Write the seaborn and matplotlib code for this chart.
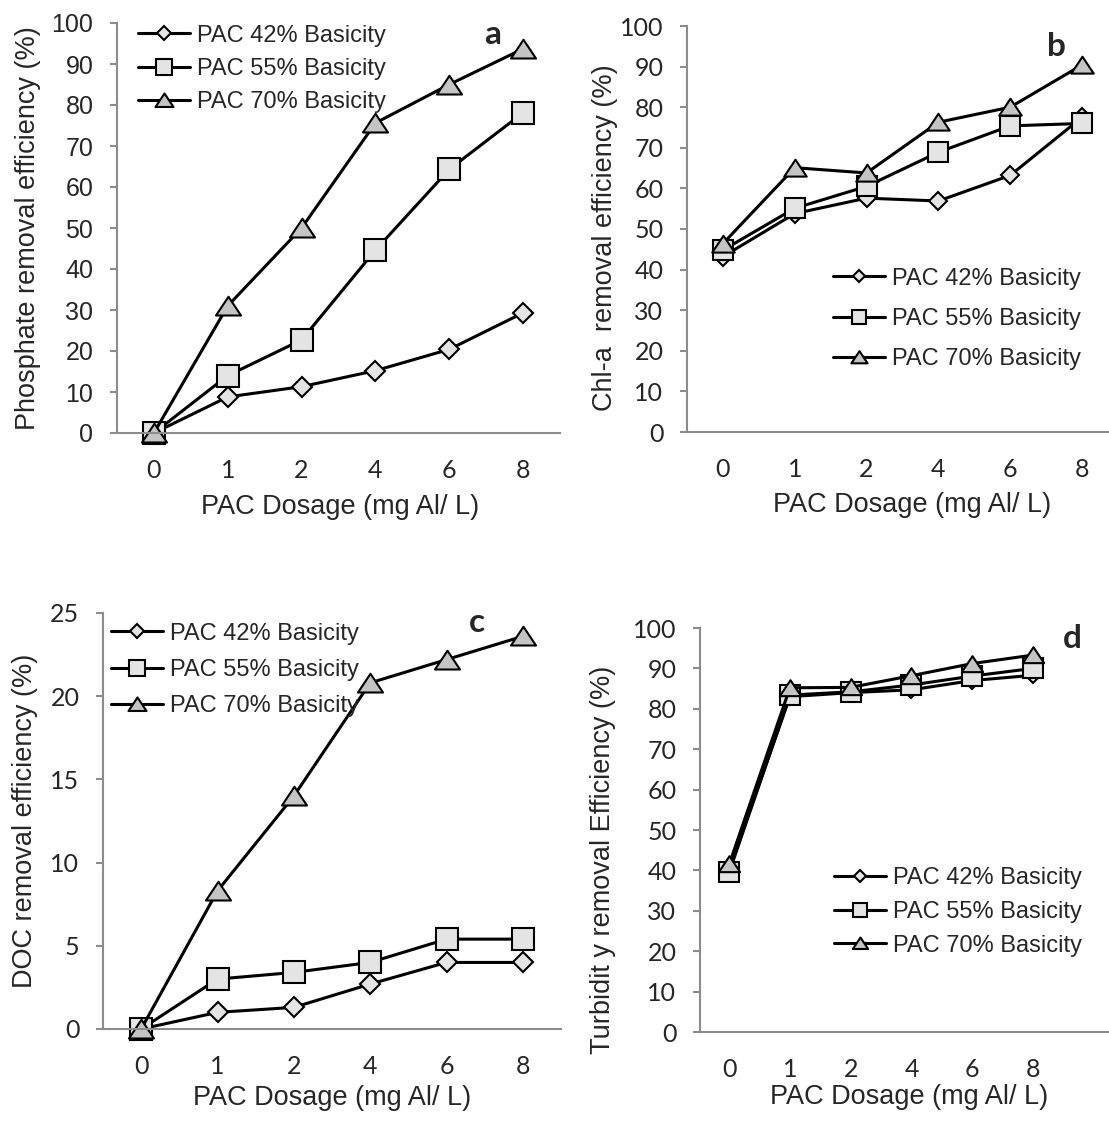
import matplotlib
matplotlib.use('Agg')
import matplotlib.pyplot as plt
import seaborn as sns
import pandas as pd
from matplotlib.path import Path

# PAC dosage categories (mg Al/L), plotted as equally spaced categories
dosage = ['0', '1', '2', '4', '6', '8']
series = ['PAC 42% Basicity', 'PAC 55% Basicity', 'PAC 70% Basicity']

# a - phosphate removal (%)
phos_42 = [0, 8.8, 11.3, 15.2, 20.4, 29.3]
phos_55 = [0, 14.0, 22.7, 44.6, 64.3, 78.1]
phos_70 = [0, 31.0, 50.0, 75.6, 85.0, 93.7]

# b - Chl-a removal (%)
chla_42 = [43.2, 53.8, 57.6, 56.9, 63.2, 77.5]
chla_55 = [44.8, 55.1, 60.5, 68.9, 75.4, 76.0]
chla_70 = [46.4, 65.1, 63.8, 76.3, 80.0, 90.4]

# c - DOC removal (%)
doc_42 = [0, 1.0, 1.3, 2.7, 4.0, 4.0]
doc_55 = [0, 3.0, 3.4, 4.0, 5.4, 5.4]
doc_70 = [0, 8.3, 14.0, 20.8, 22.2, 23.6]

# d - turbidity removal (%)
turb_42 = [40.2, 83.0, 84.0, 84.7, 87.0, 88.3]
turb_55 = [39.5, 83.4, 84.2, 85.9, 88.1, 90.0]
turb_70 = [41.5, 85.2, 85.3, 88.2, 91.2, 93.3]

ARIAL = 'Liberation Sans'
CALIBRI = 'Lato'

sns.set_style('white')
plt.rcParams['font.family'] = [ARIAL, 'DejaVu Sans']

# wide, flat triangle like the Excel marker
tri = Path([(-1, -0.72), (1, -0.72), (0, 0.78), (-1, -0.72)],
           [Path.MOVETO, Path.LINETO, Path.LINETO, Path.CLOSEPOLY])
styles = {
    series[0]: dict(marker='D', size=10.0, face='#e4e4e4'),
    series[1]: dict(marker='s', size=16.5, face='#e4e4e4'),
    series[2]: dict(marker=tri, size=18.0, face='#c4c4c4'),
}


def make_df(v42, v55, v70):
    rows = []
    for name, vals in zip(series, [v42, v55, v70]):
        for i, v in enumerate(vals):
            rows.append({'pos': i, 'value': v, 'series': name})
    return pd.DataFrame(rows)


def draw_panel(ax, df, ylim, yticks, ylabel, xlim, ytick_font, mscale,
               ylab_xy, xlab_xy, leg_anchor, leg_spacing):
    for name in series:
        st = styles[name]
        sub = df[df['series'] == name]
        sns.lineplot(data=sub, x='pos', y='value', ax=ax, color='black',
                     linewidth=2.2, marker=st['marker'],
                     markersize=st['size'] * mscale,
                     markerfacecolor=st['face'], markeredgecolor='black',
                     markeredgewidth=1.5, label=name, clip_on=False)
    ax.set_xlim(*xlim)
    ax.set_ylim(*ylim)
    ax.set_yticks(yticks)
    ax.set_yticklabels([str(t) for t in yticks], family=ytick_font, fontsize=18)
    ax.set_xticks(range(len(dosage)))
    ax.set_xticklabels(dosage, family=CALIBRI, fontsize=18)
    ax.tick_params(axis='y', length=5, width=1.5, color='#8c8c8c',
                   direction='out', left=True, pad=12)
    ax.tick_params(axis='x', length=0, pad=19)
    for s in ['top', 'right']:
        ax.spines[s].set_visible(False)
    for s in ['left', 'bottom']:
        ax.spines[s].set_color('#8c8c8c')
        ax.spines[s].set_linewidth(1.5)
    ax.set_ylabel(ylabel, fontsize=19.5, va='center', family=ARIAL)
    ax.yaxis.set_label_coords(*ylab_xy)
    ax.set_xlabel('PAC Dosage (mg Al/ L)', fontsize=19.5, va='center', family=ARIAL)
    ax.xaxis.set_label_coords(*xlab_xy)
    leg = ax.legend(loc='center left', bbox_to_anchor=leg_anchor,
                    bbox_transform=fig.transFigure, frameon=False,
                    prop={'family': ARIAL, 'size': 17}, borderpad=0,
                    borderaxespad=0, handlelength=2.2, handletextpad=0.3,
                    labelspacing=leg_spacing, markerscale=0.72)
    return leg


W, H = 1109, 1122
fig = plt.figure(figsize=(W / 100, H / 100), dpi=100)


def px_axes(left, right, top, bottom):
    return fig.add_axes([left / W, (H - bottom) / H, (right - left) / W, (bottom - top) / H])


ax_a = px_axes(117, 560, 23, 433)
ax_b = px_axes(687, 1109, 26, 432)
ax_c = px_axes(103, 561, 613, 1029)
ax_d = px_axes(700, 1109, 628, 1032)

draw_panel(ax_a, make_df(phos_42, phos_55, phos_70), (0, 100), list(range(0, 101, 10)),
           'Phosphate removal efficiency (%)', (-0.5, 5.5), ARIAL, 1.0,
           (-0.201, 0.5), (0.503, -0.180), (138 / W, 1 - 69 / H), 0.48)
draw_panel(ax_b, make_df(chla_42, chla_55, chla_70), (0, 100), list(range(0, 101, 10)),
           'Chl-a  removal efficiency (%)', (-0.5, 5.376), CALIBRI, 0.9,
           (-0.194, 0.478), (0.533, -0.180), (833 / W, 1 - 319 / H), 0.78)
draw_panel(ax_c, make_df(doc_42, doc_55, doc_70), (0, 25), list(range(0, 26, 5)),
           'DOC removal efficiency (%)', (-0.5, 5.5), CALIBRI, 1.0,
           (-0.170, 0.5), (0.5, -0.166), (111 / W, 1 - 670 / H), 0.61)
draw_panel(ax_d, make_df(turb_42, turb_55, turb_70), (0, 100), list(range(0, 101, 10)),
           'Turbidit y removal Efficiency (%)', (-0.48, 6.25), CALIBRI, 0.85,
           (-0.237, 0.426), (0.511, -0.161), (834 / W, 1 - 912 / H), 0.49)

for letter, (x, y) in zip('abcd', [(493, 35), (1056, 46), (477, 623), (1072, 639)]):
    fig.text(x / W, 1 - y / H, letter, fontsize=24, fontweight='bold',
             family=CALIBRI, ha='center', va='center')

fig.savefig('out.png', dpi=100)
